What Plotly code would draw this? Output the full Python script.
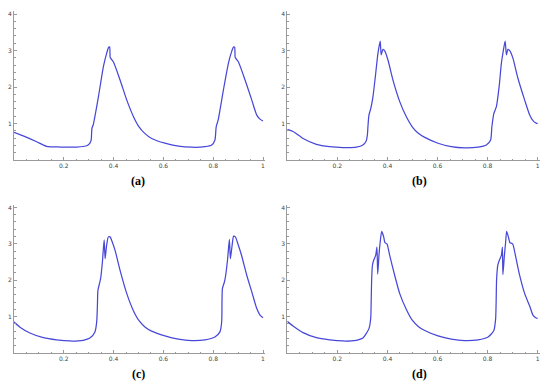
import plotly.graph_objects as go

# ---- data ----
xa = [0.000, 0.037, 0.091, 0.131, 0.185, 0.252, 0.292, 0.305, 0.310, 0.313, 0.318, 0.339, 0.359, 0.372,
      0.380, 0.384, 0.386, 0.388, 0.399, 0.426, 0.453, 0.479, 0.500, 0.525, 0.553, 0.606, 0.660, 0.714,
      0.767, 0.794, 0.807, 0.812, 0.820, 0.841, 0.861, 0.874, 0.882, 0.886, 0.888, 0.890, 0.901, 0.928,
      0.955, 0.975, 0.988, 1.000]
ya = [0.76, 0.66, 0.50, 0.375, 0.356, 0.356, 0.39, 0.46, 0.55, 0.87, 0.96, 1.73, 2.56, 2.92,
      3.09, 3.10, 2.82, 2.79, 2.69, 2.19, 1.64, 1.20, 0.93, 0.73, 0.59, 0.46, 0.38, 0.35,
      0.365, 0.41, 0.55, 0.91, 1.10, 1.92, 2.65, 2.97, 3.10, 3.09, 2.82, 2.79, 2.69, 2.19,
      1.64, 1.23, 1.12, 1.07]

xb = [0.000, 0.023, 0.063, 0.116, 0.169, 0.222, 0.276, 0.302, 0.315, 0.320, 0.322, 0.326, 0.333, 0.342,
      0.353, 0.362, 0.371, 0.375, 0.382, 0.389, 0.402, 0.422, 0.449, 0.475, 0.499, 0.522, 0.549, 0.602,
      0.655, 0.708, 0.762, 0.795, 0.812, 0.817, 0.825, 0.835, 0.846, 0.855, 0.863, 0.870, 0.875, 0.881,
      0.889, 0.901, 0.921, 0.948, 0.968, 0.981, 0.994, 1.000]
yb = [0.84, 0.78, 0.59, 0.43, 0.365, 0.34, 0.35, 0.41, 0.52, 0.70, 0.91, 1.23, 1.40, 1.73,
      2.37, 2.92, 3.26, 2.88, 3.03, 2.99, 2.74, 2.19, 1.60, 1.19, 0.91, 0.74, 0.62, 0.46,
      0.365, 0.33, 0.35, 0.41, 0.55, 0.91, 1.28, 1.46, 2.01, 2.65, 3.01, 3.26, 2.88, 3.03,
      2.99, 2.79, 2.24, 1.64, 1.23, 1.08, 1.01, 1.00]

xc = [0.000, 0.024, 0.064, 0.118, 0.171, 0.225, 0.278, 0.305, 0.325, 0.332, 0.335, 0.337, 0.343, 0.348,
      0.355, 0.362, 0.366, 0.372, 0.379, 0.386, 0.392, 0.406, 0.426, 0.453, 0.479, 0.503, 0.527, 0.553,
      0.606, 0.660, 0.714, 0.767, 0.807, 0.827, 0.834, 0.837, 0.845, 0.850, 0.858, 0.865, 0.869, 0.876,
      0.882, 0.889, 0.901, 0.914, 0.935, 0.955, 0.975, 0.988, 1.000]
yc = [0.85, 0.71, 0.55, 0.42, 0.36, 0.33, 0.35, 0.41, 0.58, 0.85, 1.31, 1.72, 1.90, 2.05,
      2.50, 3.11, 2.59, 2.96, 3.19, 3.19, 3.10, 2.82, 2.27, 1.63, 1.17, 0.88, 0.71, 0.60,
      0.47, 0.38, 0.34, 0.36, 0.44, 0.58, 0.85, 1.77, 1.95, 2.13, 2.59, 3.12, 2.59, 2.96,
      3.21, 3.19, 2.96, 2.68, 2.13, 1.68, 1.22, 1.04, 0.97]

xd = [0.000, 0.023, 0.063, 0.116, 0.169, 0.222, 0.276, 0.302, 0.326, 0.333, 0.335, 0.337, 0.340, 0.345,
      0.353, 0.358, 0.361, 0.366, 0.371, 0.377, 0.385, 0.390, 0.398, 0.409, 0.429, 0.449, 0.475, 0.499,
      0.523, 0.549, 0.602, 0.655, 0.708, 0.762, 0.802, 0.825, 0.832, 0.834, 0.836, 0.841, 0.848, 0.855,
      0.859, 0.861, 0.867, 0.872, 0.876, 0.884, 0.889, 0.900, 0.911, 0.928, 0.948, 0.968, 0.981, 0.994,
      1.000]
yd = [0.87, 0.74, 0.56, 0.42, 0.36, 0.33, 0.35, 0.41, 0.67, 0.94, 1.40, 2.04, 2.41, 2.55,
      2.68, 2.91, 2.17, 2.68, 3.05, 3.34, 3.19, 3.03, 3.00, 2.68, 2.13, 1.63, 1.20, 0.90,
      0.73, 0.62, 0.47, 0.38, 0.34, 0.36, 0.44, 0.62, 0.94, 1.40, 2.04, 2.43, 2.57, 2.68,
      2.91, 2.15, 2.68, 3.05, 3.34, 3.16, 3.03, 3.00, 2.68, 2.13, 1.63, 1.29, 1.04, 0.96,
      0.95]

x_tickvals = [0.2, 0.4, 0.6, 0.8, 1.0]
x_ticktext = ["0.2", "0.4", "0.6", "0.8", "1"]
y_tickvals = [1, 2, 3, 4]
y_ticktext = ["1", "2", "3", "4"]
captions = ["(a)", "(b)", "(c)", "(d)"]

OFF = 8  # default page body margin
W, H = 550 - OFF, 384 - OFF
LINE = "rgb(72,72,216)"
AXC = "#9a9a9a"

panels = [(xa, ya), (xb, yb), (xc, yc), (xd, yd)]
# pixel geometry in window coords: (x px for x=0, px per unit, y px for y=0, px per unit)
geo = [(14, 249, 160, 36.5), (287.3, 250.4, 160, 36.5),
       (14, 249, 353, 36.4), (287.3, 250.4, 353, 36.4)]
cap_pos = [(138, 181), (419, 181), (138, 373.5), (419, 373.5)]

XMAX, YMAX = 1.01, 4.07

fig = go.Figure()
layout = dict(width=W, height=H, margin=dict(l=0, r=0, t=0, b=0),
              plot_bgcolor="white", paper_bgcolor="white", showlegend=False)

annotations = []
for i, ((xs, ys), (x0, sx, y0, sy)) in enumerate(zip(panels, geo)):
    n = "" if i == 0 else str(i + 1)
    fig.add_trace(go.Scatter(x=xs, y=ys, mode="lines",
                             line=dict(color=LINE, width=1.25, shape="spline", smoothing=0.6),
                             xaxis="x" + n, yaxis="y" + n, hoverinfo="skip"))
    x0 -= OFF
    y0 -= OFF
    xd0 = x0 / W
    xd1 = (x0 + XMAX * sx) / W
    yd0 = (H - y0) / H
    yd1 = (H - (y0 - YMAX * sy)) / H
    common = dict(showgrid=False, zeroline=False, showline=True, linecolor=AXC, linewidth=1,
                  ticks="inside", ticklen=3, tickcolor=AXC, tickwidth=1,
                  tickfont=dict(family="DejaVu Sans", size=6, color="#444"))
    layout["xaxis" + n] = dict(domain=[xd0, xd1], range=[0, XMAX], anchor="y" + n,
                               tickvals=x_tickvals, ticktext=x_ticktext,
                               minor=dict(ticks="inside", ticklen=1.5, tickcolor=AXC,
                                          tickvals=[k * 0.05 for k in range(1, 21)]),
                               **common)
    layout["yaxis" + n] = dict(domain=[yd0, yd1], range=[0, YMAX], anchor="x" + n,
                               tickvals=y_tickvals, ticktext=y_ticktext,
                               minor=dict(ticks="inside", ticklen=1.5, tickcolor=AXC,
                                          tickvals=[k * 0.2 for k in range(1, 21)]),
                               **common)
    cx, cy = cap_pos[i]
    cx -= OFF
    cy -= OFF
    annotations.append(dict(x=cx / W, y=(H - cy) / H, xref="paper", yref="paper",
                            text="<b>" + captions[i] + "</b>", showarrow=False,
                            font=dict(family="Liberation Serif, Times New Roman, serif",
                                      size=12, color="black"),
                            xanchor="center", yanchor="middle"))

layout["annotations"] = annotations
fig.update_layout(**layout)
fig.write_html("out.html")
